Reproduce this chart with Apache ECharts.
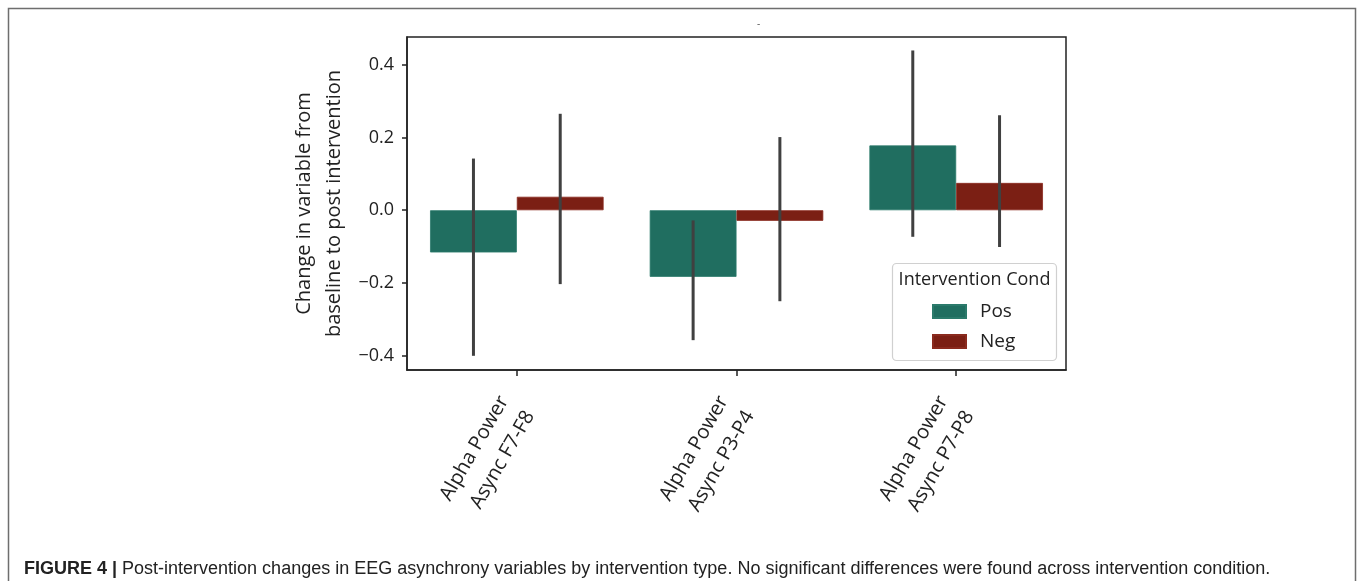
<!DOCTYPE html>
<html>
<head>
<meta charset="utf-8">
<script src="https://cdn.jsdelivr.net/npm/echarts@6/dist/echarts.min.js"></script>
<style>
html,body{margin:0;padding:0;background:#fff;}
#chart{width:1360px;height:581px;}
</style>
</head>
<body>
<div id="chart"></div>
<script>
const categories = ['Alpha Power\nAsync F7-F8', 'Alpha Power\nAsync P3-P4', 'Alpha Power\nAsync P7-P8'];
const seriesNames = ['Pos', 'Neg'];
const posMean = [-0.116, -0.183, 0.178];
const negMean = [0.037, -0.029, 0.075];
const posLow = [-0.400, -0.357, -0.073];
const posHigh = [0.142, -0.028, 0.439];
const negLow = [-0.203, -0.250, -0.101];
const negHigh = [0.265, 0.201, 0.261];
const yTicks = [-0.4, -0.2, 0.0, 0.2, 0.4];
const legendTitle = 'Intervention Cond';
const yTitle = 'Change in variable from\nbaseline to post intervention';
const caption = 'Post-intervention changes in EEG asynchrony variables by intervention type. No significant differences were found across intervention condition.';

const FONT = '"Open Sans", "Noto Sans", sans-serif';
const CAP_FONT = '"Liberation Sans", Arial, sans-serif';
const COL_POS = '#206e60';
const COL_NEG = '#7b1f14';
const CAT_GAP = 0.21;

function errData(lo, hi) {
  return categories.map((c, i) => [i, lo[i], hi[i]]);
}
function errSeries(name, lo, hi, sign) {
  return {
    type: 'custom',
    name: name + ' CI',
    z: 5,
    silent: true,
    encode: { x: 0, y: [1, 2] },
    data: errData(lo, hi),
    renderItem: function (params, api) {
      const cat = api.value(0);
      const band = api.size([1, 0])[0];
      const bw = band * (1 - CAT_GAP) / 2;
      const x = api.coord([cat, 0])[0] + sign * bw / 2;
      const y1 = api.coord([cat, api.value(1)])[1];
      const y2 = api.coord([cat, api.value(2)])[1];
      return {
        type: 'line',
        shape: { x1: x, y1: y1, x2: x, y2: y2 },
        style: { stroke: '#404040', lineWidth: 3 }
      };
    }
  };
}

const chart = echarts.init(document.getElementById('chart'), null, { renderer: 'canvas' });
chart.setOption({
  animation: false,
  backgroundColor: '#fff',
  title: [{
    text: '-',
    left: 752,
    top: 14,
    textStyle: { fontSize: 10, color: '#555', fontWeight: 'normal', fontFamily: FONT }
  }, {
    text: '{b|FIGURE 4 |} ' + caption,
    left: 19,
    top: 555,
    textStyle: {
      fontSize: 18, color: '#222', fontWeight: 'normal', fontFamily: CAP_FONT,
      rich: { b: { fontSize: 18, fontWeight: 'bold', color: '#222', fontFamily: CAP_FONT } }
    }
  }],
  grid: {
    left: 407, top: 37, width: 659, height: 333,
    show: true, borderColor: '#222', borderWidth: 1.5, backgroundColor: 'transparent'
  },
  legend: {
    data: seriesNames,
    orient: 'vertical',
    left: 927,
    top: 297,
    icon: 'rect',
    itemWidth: 33,
    itemHeight: 13,
    itemGap: 11,
    textStyle: { fontSize: 19, color: '#222', fontFamily: FONT, padding: [0, 0, 0, 9] }
  },
  xAxis: {
    type: 'category',
    data: categories,
    axisLine: { show: true, onZero: false, lineStyle: { color: '#222', width: 1.5 } },
    axisTick: { show: true, alignWithLabel: true, length: 6, lineStyle: { color: '#222', width: 1.5 } },
    axisLabel: {
      rotate: 60, fontSize: 20, color: '#222', fontFamily: FONT, margin: 35, lineHeight: 30, interval: 0
    },
    splitLine: { show: false }
  },
  yAxis: {
    type: 'value',
    min: -0.439,
    max: 0.476,
    name: yTitle,
    nameLocation: 'middle',
    nameRotate: 90,
    nameGap: 58,
    nameTextStyle: { fontSize: 20, color: '#222', fontFamily: FONT, lineHeight: 30 },
    axisLine: { show: true, lineStyle: { color: '#222', width: 1.5 } },
    axisTick: { show: true, length: 5, customValues: yTicks, lineStyle: { color: '#222', width: 1.5 } },
    axisLabel: {
      customValues: yTicks,
      fontSize: 18, color: '#222', fontFamily: FONT, margin: 13,
      formatter: v => (v < 0 ? '\u2212' + Math.abs(v).toFixed(1) : v.toFixed(1))
    },
    splitLine: { show: false }
  },
  graphic: [
    {
      type: 'rect',
      z: 3,
      shape: { x: 892.5, y: 263.5, width: 164, height: 97, r: 4 },
      style: { fill: 'rgba(255,255,255,0.85)', stroke: '#d0d0d0', lineWidth: 1.2 }
    },
    {
      type: 'text',
      z: 4,
      x: 974.5, y: 280,
      style: { text: legendTitle, fontSize: 18, fill: '#222', fontFamily: FONT, align: 'center', verticalAlign: 'middle' }
    },
    {
      type: 'rect',
      z: 0,
      silent: true,
      shape: { x: 8.5, y: 8.5, width: 1347, height: 600 },
      style: { fill: 'none', stroke: '#6e6e6e', lineWidth: 1.5 }
    }
  ],
  series: [
    {
      type: 'bar', name: 'Pos', data: posMean,
      barGap: '0%', barCategoryGap: (CAT_GAP * 100) + '%',
      itemStyle: { color: COL_POS, borderColor: '#2b7a6b', borderWidth: 0.8 }
    },
    {
      type: 'bar', name: 'Neg', data: negMean,
      barGap: '0%', barCategoryGap: (CAT_GAP * 100) + '%',
      itemStyle: { color: COL_NEG, borderColor: '#8a2a1e', borderWidth: 0.8 }
    },
    errSeries('Pos', posLow, posHigh, -1),
    errSeries('Neg', negLow, negHigh, 1)
  ]
});
</script>
</body>
</html>
